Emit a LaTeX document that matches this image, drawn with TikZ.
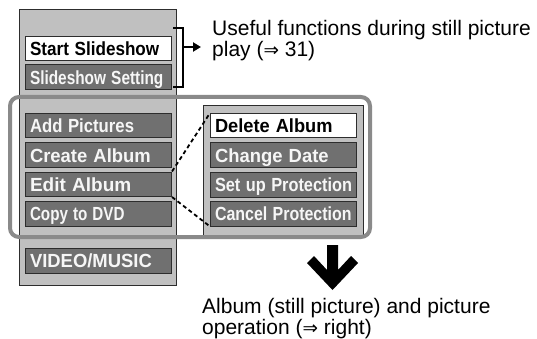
\documentclass[tikz,border=0pt]{standalone}
\usepackage{fontspec}
\setmainfont{Liberation Sans}
\newfontfamily\djv{DejaVu Sans}
\usetikzlibrary{arrows.meta}
\definecolor{panelgray}{RGB}{192,192,192}
\definecolor{boxgray}{RGB}{112,112,112}
\definecolor{edgegray}{RGB}{45,45,45}
\definecolor{framegray}{RGB}{138,138,138}
\definecolor{boxtext}{RGB}{246,246,246}
\newcommand{\sx}[2]{\scalebox{#1}[1]{#2}}
\newcommand{\rarr}{{\djv\fontsize{18.5}{18}\selectfont ⇒}}
\begin{document}
\begin{tikzpicture}[x=1pt,y=-1pt,
  panel/.style={draw=edgegray, fill=panelgray, line width=1pt, anchor=north west, inner sep=0pt},
  menubox/.style={draw=edgegray, line width=1pt, fill=boxgray, text=boxtext, anchor=north west,
    minimum width=146pt, minimum height=24.5pt, text width=137pt, inner xsep=4.5pt, inner ysep=0pt,
    align=left, font=\fontsize{19}{19}\selectfont\bfseries, text height=13.6pt, text depth=0pt},
  selbox/.style={menubox, fill=white, text=black},
  note/.style={anchor=north west, inner sep=0pt, align=left, font=\fontsize{21}{21}\selectfont},
  link/.style={draw=black, line width=1.8pt, dash pattern=on 4pt off 3pt}
]
\useasboundingbox (0,0) rectangle (537,339);
% panels
\node[panel, minimum width=157pt, minimum height=276pt] (leftpanel) at (19,9) {};
\node[panel, minimum width=160pt, minimum height=130pt] (rightpanel) at (203,105) {};
% left menu
\node[selbox] (start) at (25,36) {\sx{0.9}{Start Slideshow}};
\node[menubox] (setting) at (25,64.5) {\sx{0.81}{Slideshow Setting}};
\node[menubox] (add) at (25,113) {\sx{0.88}{Add Pictures}};
\node[menubox] (create) at (25,142.5) {\sx{0.97}{Create Album}};
\node[menubox] (edit) at (25,171.5) {Edit Album};
\node[menubox] (copy) at (25,201) {\sx{0.8}{Copy to DVD}};
\node[menubox] (video) at (25,248) {\sx{0.97}{VIDEO/MUSIC}};
% right menu
\node[selbox] (delete) at (210,113) {\sx{0.96}{Delete Album}};
\node[menubox] (change) at (210,142.5) {\sx{0.97}{Change Date}};
\node[menubox] (setup) at (210,172) {\sx{0.86}{Set up Protection}};
\node[menubox] (cancel) at (210,201) {\sx{0.84}{Cancel Protection}};
% frame
\draw[line width=4pt, framegray, rounded corners=9pt] (10,97) rectangle (370,237);
% connectors
\draw[link] (edit.north east) -- (delete.north west);
\draw[link] (edit.south east) -- (cancel.south west);
% bracket and note
\draw[line width=1.5pt] (173,28) -- (183,28) -- (183,87) -- (173,87);
\coordinate (brk) at (183,47);
\node[note] (useful) at (212,19.7) {\rule{0pt}{16pt}Useful functions during still picture\\play (\rarr{} 31)};
\draw[line width=2.5pt, -{Triangle[length=8pt,width=9pt]}, shorten >=11pt] (brk) -- (brk -| useful.west);
% big arrow
\fill[black] (327,245) -- (338,245) -- (338,270) -- (351,256) -- (358,263) -- (332.5,290) -- (307,263) -- (314,256) -- (327,270) -- cycle;
\node[note] (album) at (202,297) {\rule{0pt}{16pt}Album (still picture) and picture\\operation (\rarr{} right)};
\end{tikzpicture}
\end{document}
